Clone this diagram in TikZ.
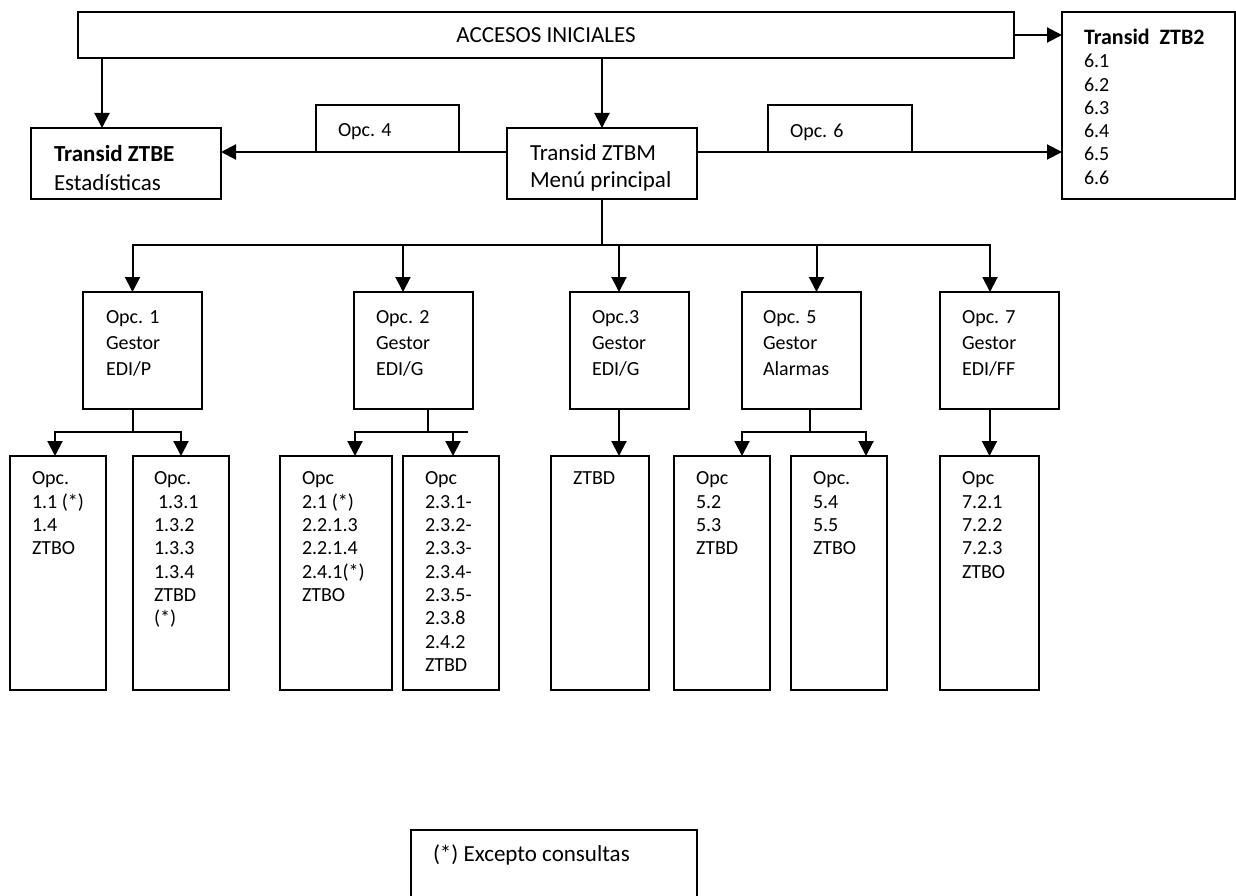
\documentclass[tikz,border=0pt]{standalone}
\usepackage{fontspec}
\setmainfont{Carlito}
\usetikzlibrary{arrows.meta, positioning}

\begin{document}
\begin{tikzpicture}[
                x = 1pt, y = -1pt, % pixel grid, y downwards
                > = {Triangle[length=15pt, width=15pt]}, % arrow head style
                line width = 2pt, % line style
                font = \fontsize{20}{23.3}\selectfont
                ]
                \tikzstyle{box}=[
                    draw,
                    rectangle,
                    inner sep = 0pt,
                    outer sep = 0pt,
                    anchor = north west
                ]
                \tikzstyle{txt}=[
                    inner sep = 0pt,
                    anchor = north west,
                    align = left
                ]
                \tikzstyle{opc}=[box, minimum width = 119pt, minimum height = 117pt]
                \tikzstyle{sub}=[box, minimum height = 234pt]

                \useasboundingbox (0,0) rectangle (1236,896);

                % top level
                \node[box, minimum width = 936pt, minimum height = 46pt, font = \fontsize{23}{27}\selectfont] (acc) at (78,12) {ACCESOS INICIALES};
                \node[box, minimum width = 190pt, minimum height = 71pt] (ztbe) at (31,128) {};
                \node[box, minimum width = 190pt, minimum height = 71pt] (ztbm) at (507,128) {};
                \node[box, minimum width = 173pt, minimum height = 187pt] (ztb2) at (1062,12) {};
                \node[box, minimum width = 143pt, minimum height = 47pt] (op4) at (316,105) {};
                \node[box, minimum width = 144pt, minimum height = 47pt] (op6) at (768,105) {};

                \node[txt, font = \fontsize{23}{29}\selectfont] (ztbet) at (53,144) {\textbf{Transid ZTBE}\\Estadísticas};
                \node[txt, font = \fontsize{23}{27}\selectfont] (ztbmt) at (529,144) {Transid ZTBM\\Menú principal};
                \node[txt] (ztb2t) at (1083,28) {{\fontsize{22}{23.3}\selectfont\textbf{Transid\ \ ZTB2}}\\6.1\\6.2\\6.3\\6.4\\6.5\\6.6};
                \node[txt] (op4t) at (337,123) {Opc. 4};
                \node[txt] (op6t) at (789,123) {Opc. 6};

                % options of the main menu
                \node[opc] (o1) at (83,292) {};
                \node[opc] (o2) at (354,292) {};
                \node[opc] (o3) at (570,292) {};
                \node[opc] (o5) at (742,292) {};
                \node[opc] (o7) at (940,292) {};

                \node[txt, font = \fontsize{20}{26}\selectfont] (o1t) at (105,310) {Opc. 1\\Gestor\\EDI/P};
                \node[txt, font = \fontsize{20}{26}\selectfont] (o2t) at (375,310) {Opc. 2\\Gestor\\EDI/G};
                \node[txt, font = \fontsize{20}{26}\selectfont] (o3t) at (591,310) {Opc.3\\Gestor\\EDI/G};
                \node[txt, font = \fontsize{20}{26}\selectfont] (o5t) at (762,310) {Opc. 5\\Gestor\\Alarmas};
                \node[txt, font = \fontsize{20}{26}\selectfont] (o7t) at (961,310) {Opc. 7\\Gestor\\EDI/FF};

                % transactions
                \node[sub, minimum width = 96pt] (s1a) at (10,456) {};
                \node[sub, minimum width = 96pt] (s1b) at (133,456) {};
                \node[sub, minimum width = 112pt] (s2a) at (280,456) {};
                \node[sub, minimum width = 96pt] (s2b) at (403,456) {};
                \node[sub, minimum width = 98pt] (s3) at (551,456) {};
                \node[sub, minimum width = 96pt] (s5a) at (674,456) {};
                \node[sub, minimum width = 96pt] (s5b) at (791,456) {};
                \node[sub, minimum width = 99pt] (s7) at (940,456) {};

                \node[txt] (s1at) at (31,471) {Opc.\\1.1 (*)\\1.4\\ZTBO};
                \node[txt] (s1bt) at (153,471) {Opc.\\\hspace{4pt}1.3.1\\1.3.2\\1.3.3\\1.3.4\\ZTBD\\(*)};
                \node[txt] (s2at) at (301,471) {Opc\\2.1 (*)\\2.2.1.3\\2.2.1.4\\2.4.1(*)\\ZTBO};
                \node[txt] (s2bt) at (424,471) {Opc\\2.3.1-\\2.3.2-\\2.3.3-\\2.3.4-\\2.3.5-\\2.3.8\\2.4.2\\ZTBD};
                \node[txt] (s3t) at (572,471) {ZTBD};
                \node[txt] (s5at) at (695,471) {Opc\\5.2\\5.3\\ZTBD};
                \node[txt] (s5bt) at (812,471) {Opc.\\5.4\\5.5\\ZTBO};
                \node[txt] (s7t) at (961,471) {Opc\\7.2.1\\7.2.2\\7.2.3\\ZTBO};

                % legend
                \node[box, minimum width = 286pt, minimum height = 80pt] (leg) at (411,830) {};
                \node[txt, font = \fontsize{23}{27}\selectfont] (legt) at (432,844) {(*) Excepto consultas};

                % connectors from the top
                \draw[->] ([xshift=-24pt]acc.south -| ztbe.north) -- ([xshift=-24pt]ztbe.north);
                \draw[->] (acc.south -| ztbm.north) -- (ztbm.north);
                \draw[->] (acc.east) -- (acc.east -| ztb2.west);
                \draw[->] (ztbm.west |- op4.south) -- (ztbe.east |- op4.south);
                \draw[->] (ztbm.east |- op6.south) -- (ztb2.west |- op6.south);

                % main menu bus
                \draw (ztbm.south) -- ++(0,46) coordinate (bus);
                \draw[->] (bus) -| ([xshift=-10pt]o1.north);
                \draw[->] (bus) -| ([xshift=-10.5pt]o2.north);
                \draw[->] (bus) -| ([xshift=-10.5pt]o3.north);
                \draw[->] (bus) -| ([xshift=15pt]o5.north);
                \draw[->] (bus) -| ([xshift=-9.5pt]o7.north);

                % second level
                \draw ([xshift=-10pt]o1.south) -- ++(0,23) coordinate (j1);
                \draw[->] (j1) -| ([xshift=-3pt]s1a.north);
                \draw[->] (j1) -| (s1b.north);

                \draw ([xshift=14.5pt]o2.south) -- ++(0,23) coordinate (j2);
                \draw[->] (j2) -| ([xshift=19pt]s2a.north);
                \draw[->] (j2) -| ([xshift=2pt]s2b.north);
                \draw (j2 -| s2b.north) -- ([xshift=17pt]j2 -| s2b.north);

                \draw[->] ([xshift=-10.5pt]o3.south) -- ([xshift=-10.5pt]o3.south |- s3.north);

                \draw ([xshift=8pt]o5.south) -- ++(0,23) coordinate (j5);
                \draw[->] (j5) -| ([xshift=20pt]s5a.north);
                \draw[->] (j5) -| ([xshift=27pt]s5b.north);

                \draw[->] (o7.south -| s7.north) -- (s7.north);
            \end{tikzpicture}
\end{document}
